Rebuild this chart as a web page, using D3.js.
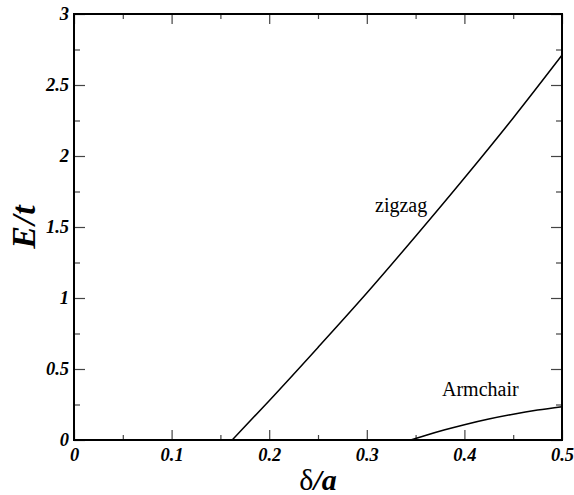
<!DOCTYPE html>
<html>
<head>
<meta charset="utf-8">
<script src="https://cdn.jsdelivr.net/npm/d3@7"></script>
<style>
  body { margin: 0; background: #fff; }
</style>
</head>
<body>
<div id="chart"></div>
<script>
// values
var xTicks = [0, 0.1, 0.2, 0.3, 0.4, 0.5];
var yTicks = [0, 0.5, 1, 1.5, 2, 2.5, 3];
var xMinor = [0.05, 0.15, 0.25, 0.35, 0.45];
var yMinor = [0.25, 0.75, 1.25, 1.75, 2.25, 2.75];

var zigzagX = [0, 0.162, 0.2, 0.25, 0.3, 0.35, 0.4, 0.45, 0.5];
var zigzagE = [0, 0, 0.277, 0.652, 1.035, 1.435, 1.845, 2.268, 2.71];

var armchairX = [0, 0.345, 0.36, 0.38, 0.4, 0.425, 0.45, 0.475, 0.5];
var armchairE = [0, 0, 0.032, 0.072, 0.108, 0.148, 0.182, 0.211, 0.235];

var serif = "Liberation Serif";

var width = 574,
	height = 495;
var margin = {top: 14, right: 12, bottom: 55, left: 74};

var svg = d3.select("#chart")
	.append("svg")
	.attr("width", width)
	.attr("height", height)
	.attr("font-family", serif);

var x = d3.scaleLinear().domain([0, 0.5]).range([margin.left, width - margin.right]);
var y = d3.scaleLinear().domain([0, 3]).range([height - margin.bottom, margin.top]);

var fmt = function(d) { return d3.format("")(d); };

// ticks on all four sides, pointing inwards
function ticks(axis, vals, size, showLabels) {
	return axis.tickValues(vals).tickSize(size).tickSizeOuter(0)
		.tickFormat(showLabels ? fmt : "");
}

var gBottom = svg.append("g").attr("transform", "translate(0," + y(0) + ")");
gBottom.append("g").call(ticks(d3.axisBottom(x), xMinor, -5, false));
gBottom.append("g").attr("class", "major").call(ticks(d3.axisBottom(x), xTicks, -10, true));

var gTop = svg.append("g").attr("transform", "translate(0," + y(3) + ")");
gTop.append("g").call(ticks(d3.axisTop(x), xMinor, -5, false));
gTop.append("g").call(ticks(d3.axisTop(x), xTicks, -10, false));

var gLeft = svg.append("g").attr("transform", "translate(" + x(0) + ",0)");
gLeft.append("g").call(ticks(d3.axisLeft(y), yMinor, -6, false));
gLeft.append("g").attr("class", "major").call(ticks(d3.axisLeft(y), yTicks, -11, true));

var gRight = svg.append("g").attr("transform", "translate(" + x(0.5) + ",0)");
gRight.append("g").call(ticks(d3.axisRight(y), yMinor, -6, false));
gRight.append("g").call(ticks(d3.axisRight(y), yTicks, -11, false));

svg.selectAll(".domain").remove();
svg.selectAll(".tick line").attr("stroke", "#444").attr("stroke-width", 1.2);

svg.selectAll(".major")
	.attr("font-family", serif)
	.attr("font-weight", "bold")
	.attr("font-style", "italic")
	.attr("font-size", 18.5);
svg.selectAll(".major .tick text").attr("fill", "#000");

gBottom.selectAll(".major .tick text").attr("y", 8).attr("dy", "0.71em");
gLeft.selectAll(".major .tick text").attr("x", -5).attr("dy", "0.32em");

// frame
svg.append("rect")
	.attr("x", x(0))
	.attr("y", y(3))
	.attr("width", x(0.5) - x(0))
	.attr("height", y(0) - y(3))
	.attr("fill", "none")
	.attr("stroke", "#000")
	.attr("stroke-width", 2);

var lineFlat = d3.line()
	.x(function(d) { return x(d[0]); })
	.y(function(d) { return y(d[1]); });

var lineCurve = d3.line()
	.x(function(d) { return x(d[0]); })
	.y(function(d) { return y(d[1]); })
	.curve(d3.curveMonotoneX);

function drawSeries(xs, es) {
	var pts = d3.zip(xs, es);
	// flat zero part up to the onset, then the smooth rise
	svg.append("path")
		.attr("d", lineFlat(pts.slice(0, 2)))
		.attr("fill", "none")
		.attr("stroke", "#000")
		.attr("stroke-width", 1.5);
	svg.append("path")
		.attr("d", lineCurve(pts.slice(1)))
		.attr("fill", "none")
		.attr("stroke", "#000")
		.attr("stroke-width", 1.5);
}

drawSeries(zigzagX, zigzagE);
drawSeries(armchairX, armchairE);

// curve labels
svg.append("text")
	.attr("x", 375)
	.attr("y", 212)
	.attr("font-size", 20)
	.text("zigzag");

svg.append("text")
	.attr("x", 442)
	.attr("y", 396)
	.attr("font-size", 20)
	.text("Armchair");

// axis titles
var xt = svg.append("text")
	.attr("x", (x(0) + x(0.5)) / 2)
	.attr("y", 490)
	.attr("text-anchor", "middle")
	.attr("font-size", 30);
xt.append("tspan").text("δ");
xt.append("tspan").attr("font-weight", "bold").attr("font-style", "italic").text("/a");

var yt = svg.append("text")
	.attr("transform", "translate(35," + (y(0) + y(3)) / 2 + ") rotate(-90)")
	.attr("text-anchor", "middle")
	.attr("font-size", 34)
	.attr("font-weight", "bold")
	.attr("font-style", "italic");
yt.append("tspan").text("E");
yt.append("tspan").attr("dx", 1).text("/");
yt.append("tspan").attr("dx", 1).text("t");
</script>
</body>
</html>
